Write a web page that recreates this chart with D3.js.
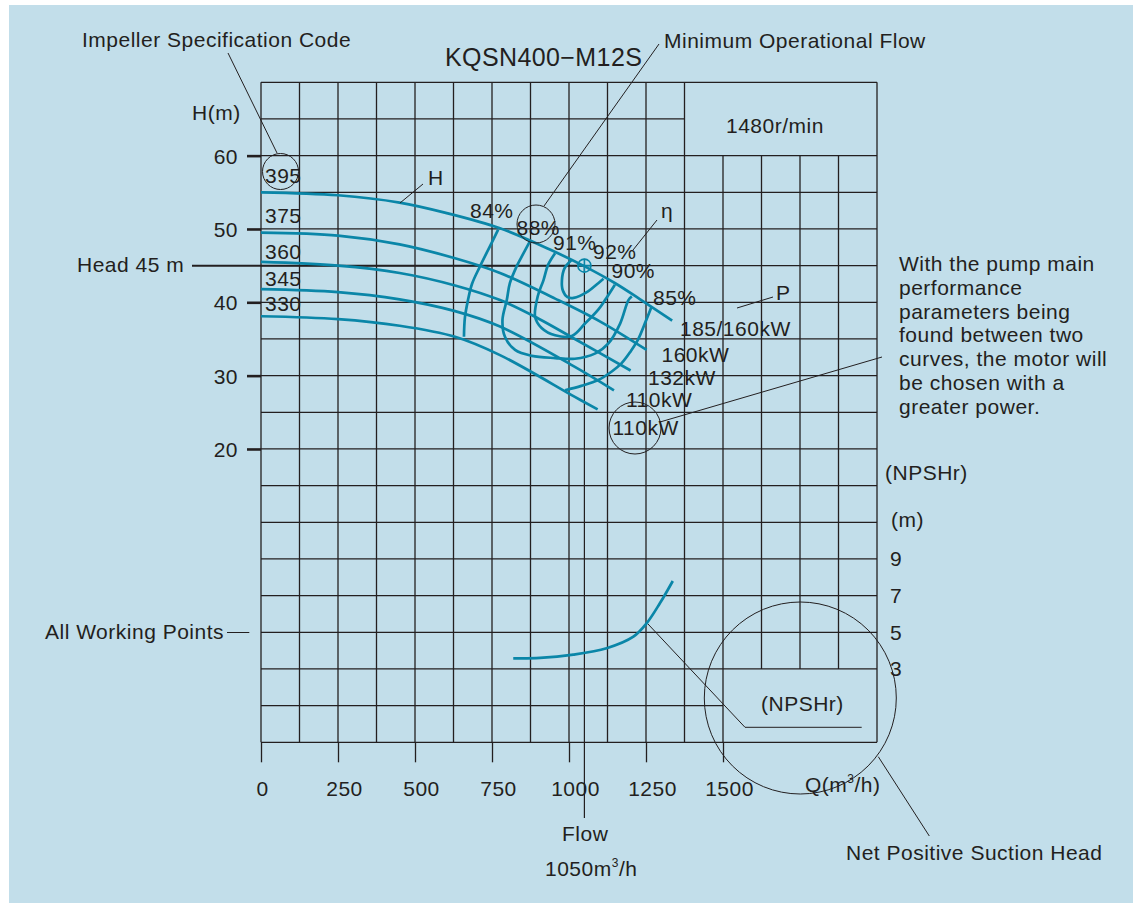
<!DOCTYPE html>
<html><head><meta charset="utf-8">
<script src="https://cdn.jsdelivr.net/npm/d3@7"></script>
<style>
body{margin:0;background:#fff}
svg{display:block}
text{font-family:"Liberation Sans",Arial,Helvetica,sans-serif;font-size:21px;fill:#231f20;letter-spacing:0.5px}
</style>
</head><body>
<svg id="chart" width="1133" height="903"></svg>
<script>
// ---------- data ----------
const flowTicks = [0, 250, 500, 750, 1000, 1250, 1500];
const headTicks = [20, 30, 40, 50, 60];
const npshTicks = [3, 5, 7, 9];
const impellerCodes = ["395", "375", "360", "345", "330"];

// H-Q curves per impeller  [Q m3/h, H m]
const head395 = [[0,55.0],[250,54.6],[450,53.6],[600,52.2],[776,50.1],[938,47.2],[1046,45.0],[1150,42.6],[1231,40.4],[1335,37.5]];
const head375 = [[0,49.5],[250,49.1],[450,47.9],[630,46.0],[776,44.0],[955,40.5],[1100,37.4],[1252,33.5]];
const head360 = [[0,45.5],[250,45.0],[450,44.0],[630,42.3],[776,40.3],[900,37.8],[1019,35.0],[1200,30.7]];
const head345 = [[0,41.8],[250,41.4],[450,40.4],[630,38.8],[776,36.7],[1019,31.2],[1146,28.0]];
const head330 = [[0,38.1],[250,37.7],[450,36.8],[630,35.3],[776,32.8],[1019,27.1],[1093,25.4]];

// iso-efficiency lines [Q, H]
const eff84 = [[770,49.9],[744,47.7],[711,44.9],[685,42.5],[672,40.3],[662,37.9],[659,35.3]];
const eff88 = [[873,48.3],[846,46.2],[830,44.9],[808,42.6],[798,40.3],[784,37.6],[792,35.3],[825,33.5],[879,32.7],[955,32.4],[1019,32.3],[1084,33.0],[1128,34.4],[1166,37.1],[1193,40.3],[1204,40.8]];
const eff91 = [[955,46.7],[932,45.1],[917,43.0],[899,40.9],[890,38.0],[911,36.5],[955,35.5],[1009,35.4],[1052,37.1],[1095,39.0],[1117,40.3],[1149,42.4]];
const eff92 = [[1009,45.8],[985,44.6],[977,43.0],[980,41.6],[995,40.7],[1015,40.6],[1062,41.5],[1095,42.6],[1112,43.2]];
const eff85 = [[987,28.0],[1040,28.6],[1095,29.4],[1140,30.6],[1171,31.7],[1200,33.3],[1224,34.9],[1250,37.5],[1268,39.4]];

// NPSHr curve [Q, NPSHr m]
const npshCurve = [[819,3.58],[906,3.60],[1014,3.78],[1122,4.13],[1209,4.76],[1252,5.49],[1295,6.58],[1337,7.80]];

const bepFlow = 1050, bepHead = 45;

// ---------- drawing ----------
const svg = d3.select("#chart");
const teal = "#0a86a8", ink = "#231f20";

svg.append("rect").attr("x",9).attr("y",5).attr("width",1124).attr("height",898).attr("fill","#c2deea");

const x = d3.scaleLinear().domain([0,2000]).range([261,877]);
const y = d3.scaleLinear().domain([-20,70]).range([742.3,82.3]);
const yN = d3.scaleLinear().domain([3,9]).range([y(-10), y(5)]);

// grid
const grid = svg.append("g").attr("stroke",ink).attr("stroke-width",1.3).attr("fill","none");
d3.range(0,2001,125).forEach(q=>{
  const top = (q>1375 && q<2000) ? y(60) : y(70);
  const bot = (q>1500 && q<2000) ? y(-10) : y(-20);
  grid.append("line").attr("x1",x(q)).attr("x2",x(q)).attr("y1",top).attr("y2",bot);
});
d3.range(-20,71,5).forEach(h=>{
  let right = x(2000);
  if (h===65) right = x(1375);
  if (h===-15) right = x(1500);
  grid.append("line").attr("x1",x(0)).attr("x2",right).attr("y1",y(h)).attr("y2",y(h));
});

// x axis ticks + labels
const xAxis = d3.axisBottom(x).tickValues(flowTicks).tickSize(20).tickPadding(19).tickFormat(d3.format("d"));
const gx = svg.append("g").attr("transform",`translate(0,${y(-20)})`).call(xAxis);
gx.select(".domain").remove();
gx.selectAll("line").attr("stroke",ink).attr("stroke-width",1.3);
gx.selectAll("text").attr("font-family",null).attr("fill",ink)
  .attr("dx",d=>d===0?1:6);

// y axis ticks + labels
const yAxis = d3.axisLeft(y).tickValues(headTicks).tickSize(14).tickPadding(9);
const gy = svg.append("g").attr("transform",`translate(${x(0)},0)`).call(yAxis);
gy.select(".domain").remove();
gy.selectAll("line").attr("stroke",ink).attr("stroke-width",2.6);
gy.selectAll("text").attr("font-family",null).attr("fill",ink).attr("dy","0.36em");

// NPSH right labels
const gn = svg.append("g");
gn.selectAll("text").data(npshTicks).join("text")
  .attr("x",890).attr("y",d=>yN(d)+7.5).text(d=>d);

// reference lines (head 45 m, flow 1050)
svg.append("line").attr("x1",192).attr("x2",x(bepFlow)).attr("y1",y(bepHead)).attr("y2",y(bepHead))
  .attr("stroke",ink).attr("stroke-width",2);
svg.append("line").attr("x1",x(bepFlow)).attr("x2",x(bepFlow)).attr("y1",y(bepHead)).attr("y2",818)
  .attr("stroke",ink).attr("stroke-width",1.2);

// curves
const line = d3.line().x(d=>x(d[0])).y(d=>y(d[1])).curve(d3.curveCatmullRom.alpha(0.5));
const cg = svg.append("g").attr("fill","none").attr("stroke",teal).attr("stroke-width",2.7).attr("stroke-linecap","butt");
[head395, head375, head360, head345, head330].forEach(c=>cg.append("path").attr("d",line(c)));
[eff84, eff88, eff91, eff92, eff85].forEach(c=>cg.append("path").attr("d",line(c)));
const lineN = d3.line().x(d=>x(d[0])).y(d=>yN(d[1])).curve(d3.curveCatmullRom.alpha(0.5));
cg.append("path").attr("d",lineN(npshCurve));

// BEP marker
const bx = x(bepFlow), by = y(bepHead);
svg.append("circle").attr("cx",bx).attr("cy",by).attr("r",6.5).attr("fill","none").attr("stroke",teal).attr("stroke-width",1.6);
svg.append("path").attr("d",`M${bx-7},${by}H${bx+7}M${bx},${by-7}V${by+7}`).attr("stroke",teal).attr("stroke-width",1.6);

// annotation lines & circles
const ann = svg.append("g").attr("stroke",ink).attr("stroke-width",1).attr("fill","none");
ann.append("line").attr("x1",228).attr("y1",53).attr("x2",277).attr("y2",153);
ann.append("circle").attr("cx",280.5).attr("cy",171.5).attr("r",18);
ann.append("line").attr("x1",659).attr("y1",44).attr("x2",544).attr("y2",206);
ann.append("circle").attr("cx",536).attr("cy",224).attr("r",19);
ann.append("line").attr("x1",400).attr("y1",203).attr("x2",423).attr("y2",184);
ann.append("line").attr("x1",657).attr("y1",220).attr("x2",633).attr("y2",250);
ann.append("line").attr("x1",737).attr("y1",308).attr("x2",773).attr("y2",297);
ann.append("circle").attr("cx",635).attr("cy",428).attr("r",26);
ann.append("line").attr("x1",660).attr("y1",422).attr("x2",882).attr("y2",357);
ann.append("polyline").attr("points","648,624 745,727.3 861.7,727.3");
ann.append("circle").attr("cx",800.3).attr("cy",698).attr("r",96);
ann.append("line").attr("x1",878.3).attr("y1",756.7).attr("x2",929.3).attr("y2",836);
ann.append("line").attr("x1",227).attr("y1",632.5).attr("x2",249.3).attr("y2",632.5);

// texts
const T = (str,xx,yy,opts={})=>{
  const t = svg.append("text").attr("x",xx).attr("y",yy).text(str);
  if (opts.size) t.style("font-size",opts.size+"px");
  if (opts.spacing!==undefined) t.style("letter-spacing",opts.spacing+"px");
  return t;
};
T("Impeller Specification Code",82,47);
T("KQSN400\u2212M12S",445,66,{size:25,spacing:0.4});
T("Minimum Operational Flow",664,48);
T("H(m)",192,120);
T("1480r/min",726,133);
T("Head 45 m",77,272);
impellerCodes.forEach((c,i)=>T(c,265,[182.7,223,259,286,310.5][i]));
T("H",428,185);
T("84%",470,218.3);
T("88%",516.5,235);
T("91%",553,250);
T("92%",593,259);
T("90%",611.5,278);
T("85%",653,305);
T("\u03b7",661,218);
T("P",776,300);
T("185/160kW",680,336);
T("160kW",661.5,361.5);
T("132kW",648,385);
T("110kW",626,406.5);
T("110kW",612.5,435);
["With the pump main","performance","parameters being","found between two","curves, the motor will","be chosen with a","greater power."]
  .forEach((s,i)=>T(s,899,271+i*23.8));
T("(NPSHr)",885,480);
T("(m)",891,527);
T("(NPSHr)",761,711);
T("All Working Points",45,639);
const q = T("Q(m",805,792);
q.append("tspan").style("font-size","12px").attr("dy",-9).text("3");
q.append("tspan").attr("dy",9).text("/h)");
T("Flow",562,841);
const f = T("1050m",545,876);
f.append("tspan").style("font-size","12px").attr("dy",-9).text("3");
f.append("tspan").attr("dy",9).text("/h");
T("Net Positive Suction Head",846,860);
</script>
</body></html>
